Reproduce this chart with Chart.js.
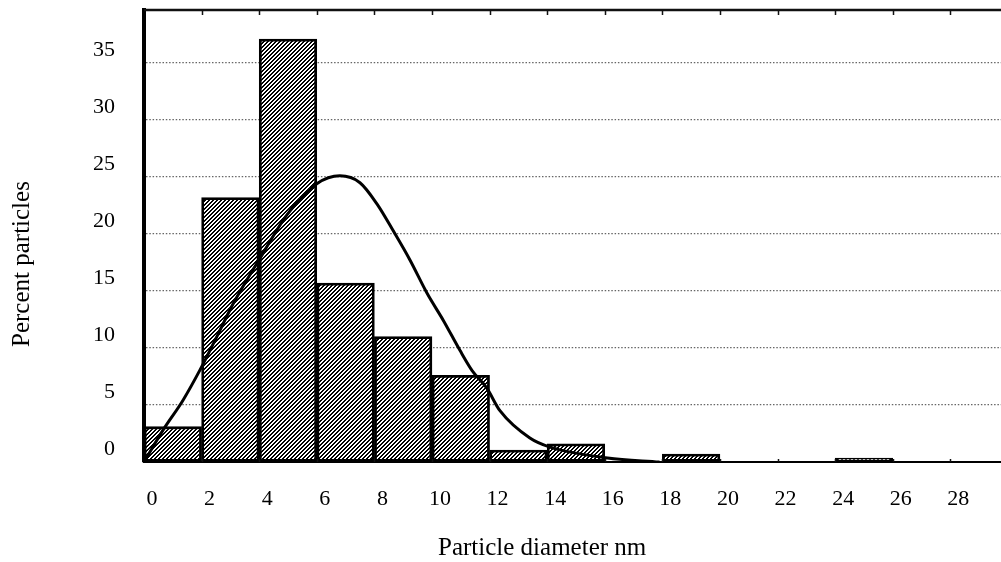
<!DOCTYPE html>
<html>
<head>
<meta charset="utf-8">
<script src="https://cdn.jsdelivr.net/npm/chart.js@4.4.1/dist/chart.umd.min.js"></script>
<style>
  html, body { margin: 0; padding: 0; background: #fff; overflow: hidden; }
  #wrap { width: 1001px; height: 562px; }
</style>
</head>
<body>
<div id="wrap"><canvas id="histChart" width="1001" height="562"></canvas></div>
<script>
// histogram bins (centre of each 2 nm bin) and percent of particles
const binMid = [1, 3, 5, 7, 9, 11, 13, 15, 19, 25];
const binPct = [3.1, 23.2, 37.1, 15.7, 11.0, 7.6, 1.05, 1.6, 0.7, 0.35];

// fitted distribution curve
const fitX = [0, 0.66, 1.35, 1.95, 2.53, 3.1, 4.13, 4.97, 6.0, 6.8, 7.5, 8.1, 8.65, 9.24, 9.83, 10.4, 10.97, 11.4, 11.9, 12.36, 13.4, 14.1, 16.1, 17.9];
const fitY = [0, 2.8, 5.4, 8.1, 11.0, 13.9, 18.3, 21.7, 24.4, 25.1, 24.5, 22.6, 20.3, 17.7, 14.8, 12.4, 9.8, 8.0, 6.5, 4.5, 2.1, 1.3, 0.35, 0];

const xTicks = [0, 2, 4, 6, 8, 10, 12, 14, 16, 18, 20, 22, 24, 26, 28];
const yTicks = [0, 5, 10, 15, 20, 25, 30, 35];

const xTitle = 'Particle diameter nm';
const yTitle = 'Percent particles';

const serif = "'Liberation Serif', 'Times New Roman', serif";

// "/" hatch used for the bars
function makeHatch() {
  const tile = document.createElement('canvas');
  tile.width = 4; tile.height = 4;
  const t = tile.getContext('2d');
  t.fillStyle = '#fff';
  t.fillRect(0, 0, 4, 4);
  t.fillStyle = '#000';
  for (let x = 0; x < 4; x++) {
    for (let y = 0; y < 4; y++) {
      if ((x + y) % 4 < 2) t.fillRect(x, y, 1, 1);
    }
  }
  return t.createPattern(tile, 'repeat');
}

// top frame line with small tick marks, bottom ticks and the axis titles
const framePlugin = {
  id: 'frame',
  afterDraw(chart) {
    const { ctx, chartArea: a, scales } = chart;
    const xs = scales.x;
    ctx.save();
    ctx.strokeStyle = '#111';
    ctx.lineWidth = 2.5;
    ctx.beginPath();
    ctx.moveTo(a.left, a.top);
    ctx.lineTo(a.right, a.top);
    ctx.stroke();
    ctx.lineWidth = 1.5;
    xTicks.forEach(v => {
      if (v === 0) return;
      const px = Math.round(xs.getPixelForValue(v)) + 0.5;
      ctx.beginPath();
      ctx.moveTo(px, a.top);
      ctx.lineTo(px, a.top + 5);
      ctx.moveTo(px, a.bottom);
      ctx.lineTo(px, a.bottom - 3);
      ctx.stroke();
    });

    ctx.fillStyle = '#000';
    ctx.font = '25px ' + serif;
    ctx.textBaseline = 'alphabetic';
    ctx.textAlign = 'left';
    ctx.fillText(xTitle, 438, 555);

    ctx.translate(29, 347);
    ctx.rotate(-Math.PI / 2);
    ctx.fillText(yTitle, 0, 0);
    ctx.restore();
  }
};

const ctx = document.getElementById('histChart').getContext('2d');
new Chart(ctx, {
  type: 'bar',
  data: {
    datasets: [
      {
        type: 'line',
        label: 'fit',
        data: fitX.map((x, i) => ({ x: x, y: fitY[i] })),
        borderColor: '#000',
        borderWidth: 3,
        pointRadius: 0,
        cubicInterpolationMode: 'monotone',
        fill: false,
        order: 0
      },
      {
        type: 'bar',
        label: 'particles',
        data: binMid.map((x, i) => ({ x: x, y: binPct[i] })),
        backgroundColor: makeHatch(),
        borderColor: '#000',
        borderWidth: 2.8,
        borderSkipped: false,
        barPercentage: 1,
        categoryPercentage: 1,
        order: 1
      }
    ]
  },
  options: {
    responsive: false,
    animation: false,
    devicePixelRatio: 1,
    layout: { padding: { top: 10, left: 0, right: 0, bottom: 0 } },
    plugins: {
      legend: { display: false },
      tooltip: { enabled: false },
      title: { display: false }
    },
    scales: {
      x: {
        type: 'linear',
        min: 0,
        max: 29.76,
        offset: false,
        afterFit: s => { s.height = 100; s.paddingLeft = 0; s.paddingRight = 0; },
        afterBuildTicks: s => { s.ticks = xTicks.map(v => ({ value: v })); },
        grid: { display: true, drawOnChartArea: false, drawTicks: false },
        border: { display: true, color: '#000', width: 2 },
        ticks: {
          color: '#000',
          font: { family: serif, size: 22 },
          padding: 24,
          labelOffset: 8,
          maxRotation: 0,
          autoSkip: false
        }
      },
      y: {
        min: 0,
        max: 39.65,
        afterFit: s => { s.width = 144; s.paddingTop = 0; s.paddingBottom = 0; },
        afterBuildTicks: s => { s.ticks = yTicks.map(v => ({ value: v })); },
        grid: {
          drawTicks: false,
          color: c => (c.tick && c.tick.value === 0) ? 'rgba(0,0,0,0)' : '#666',
          lineWidth: 1.2
        },
        border: { display: true, color: '#000', width: 4, dash: [1.5, 1.8] },
        ticks: {
          color: '#000',
          font: { family: serif, size: 22 },
          padding: 29,
          labelOffset: -13
        }
      }
    }
  },
  plugins: [framePlugin]
});
</script>
</body>
</html>
